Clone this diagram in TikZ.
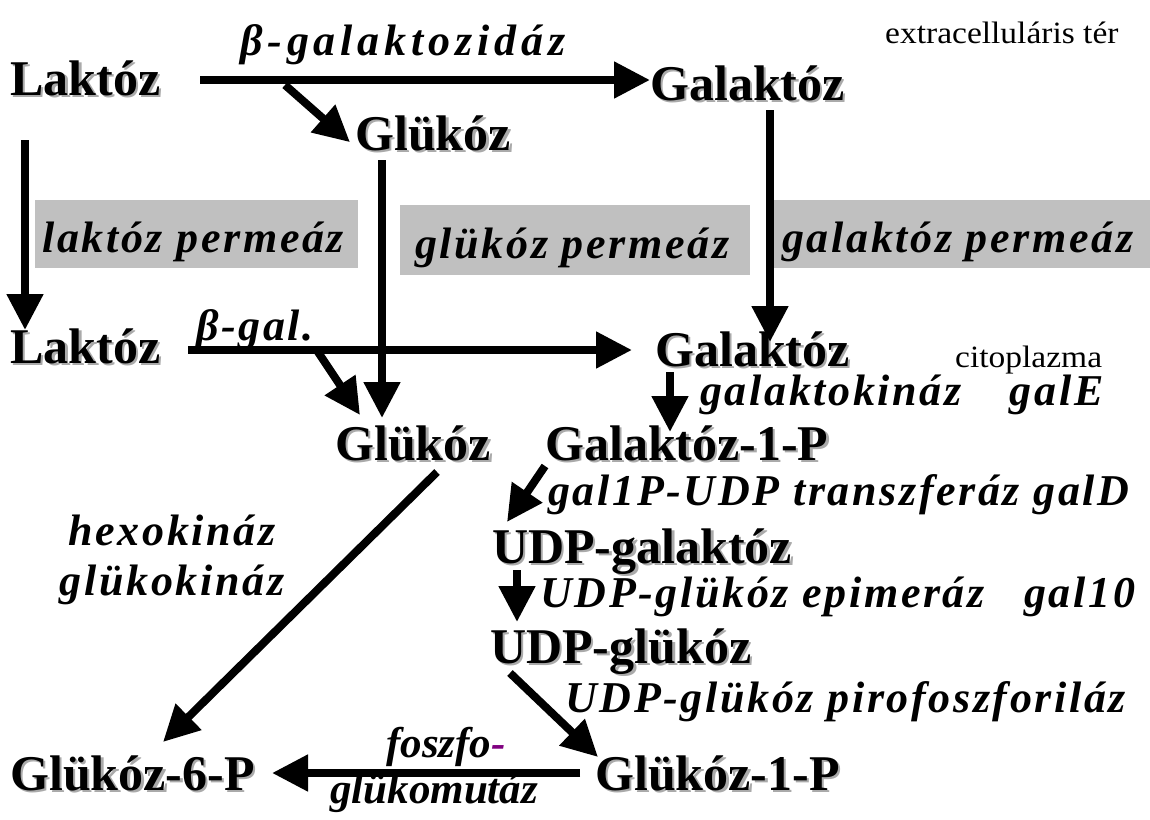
\documentclass[tikz,border=0pt]{standalone}
\usepackage{fontspec}
\setmainfont{Liberation Serif}
\newfontfamily\enzfont[LetterSpace=6]{Liberation Serif}
\newfontfamily\enzwidefont[LetterSpace=11]{Liberation Serif}
\newfontfamily\notefont[FakeStretch=1.08]{Liberation Serif}
\usetikzlibrary{arrows.meta}
\definecolor{boxgray}{RGB}{192,192,192}
\definecolor{shadowgray}{RGB}{170,170,170}
\definecolor{hyph}{RGB}{128,0,128}
% bold label with a soft grey drop shadow behind it
\newcommand\shadowed[1]{\rlap{\raisebox{-2.5pt}{\hspace*{2.5pt}\textcolor{shadowgray}{#1}}}#1}
\begin{document}
\begin{tikzpicture}[x=1pt,y=-1pt,
  mol/.style={font=\fontsize{50}{52}\selectfont\bfseries, inner sep=0pt, anchor=base west},
  enz/.style={font=\fontsize{44}{46}\enzfont\bfseries\itshape, inner sep=0pt, anchor=base west},
  enzwide/.style={enz, font=\fontsize{44}{46}\enzwidefont\bfseries\itshape},
  enzplain/.style={enz, font=\fontsize{43}{45}\selectfont\bfseries\itshape},
  note/.style={font=\fontsize{31}{33}\notefont, inner sep=0pt, anchor=base west},
  arr/.style={line width=8pt, -{Triangle[length=36pt,width=35pt]}},
  permbox/.style={fill=boxgray, draw=none, inner sep=0pt, anchor=north west}]
\fill[white] (0,0) rectangle (1150,819);
\useasboundingbox (0,0) rectangle (1150,819);

% membrane permease boxes
\node[permbox, minimum width=323pt, minimum height=68pt] (pb1) at (35,200) {};
\node[permbox, minimum width=350pt, minimum height=70pt] (pb2) at (400,205) {};
\node[permbox, minimum width=380pt, minimum height=68pt] (pb3) at (770,200) {};
\node[enz] (p1) at (42,252) {laktóz permeáz};
\node[enz] (p2) at (415,258) {glükóz permeáz};
\node[enz] (p3) at (782,252) {galaktóz permeáz};

% metabolites
\node[mol] (lak1) at (10,95) {\shadowed{Laktóz}};
\node[mol] (gal1) at (650,100) {\shadowed{Galaktóz}};
\node[mol] (glu1) at (355,150) {\shadowed{Glükóz}};
\node[mol] (lak2) at (10,363) {\shadowed{Laktóz}};
\node[mol] (gal2) at (655,366) {\shadowed{Galaktóz}};
\node[mol] (glu2) at (335,460) {\shadowed{Glükóz}};
\node[mol] (g1p) at (545,460) {\shadowed{Galaktóz-1-P}};
\node[mol] (udpgal) at (492,563) {\shadowed{UDP-galaktóz}};
\node[mol] (udpglu) at (490,663) {\shadowed{UDP-glükóz}};
\node[mol] (g6p) at (10,790) {\shadowed{Glükóz-6-P}};
\node[mol] (glu1p) at (595,790) {\shadowed{Glükóz-1-P}};

% compartments
\node[note] (ext) at (885,43) {extracelluláris tér};
\node[note] (cyt) at (955,367) {citoplazma};

% enzymes
\node[enzwide] (bgal) at (240,55) {β-galaktozidáz};
\node[enz] (bgal2) at (196,340) {β-gal.};
\node[enz] (gk) at (700,405) {galaktokináz\hspace*{1.1em}galE};
\node[enz] (gt) at (548,505) {gal1P-UDP transzferáz galD};
\node[enz] (ep) at (540,607) {UDP-glükóz epimeráz\hspace*{0.9em}gal10};
\node[enz] (pf) at (565,712) {UDP-glükóz pirofoszforiláz};
\node[enz, anchor=base] (hk) at (172,545) {hexokináz};
\node[enz, anchor=base] (glk) at (172,595) {glükokináz};
\node[enzplain] (pgm1) at (386,757) {foszfo\textcolor{hyph}{-}};
\node[enzplain] (pgm2) at (330,803) {glükomutáz};

% reaction arrows
\coordinate (a1) at (200,80);
\coordinate (a1b) at (285,85);
\coordinate (a6) at (188,350);
\coordinate (a6b) at (318,352);
\draw[arr] (a1) -- (gal1.west |- a1);
\draw[arr] (a1b) -- ([shift={(-5,8)}]glu1.west);
\draw[arr] (25,140) -- (25,330);
\draw[arr] (382,160) -- (382,418);
\draw[arr] (770,110) -- (770,342);
\draw[arr] (a6) -- (632,350);
\draw[arr] (a6b) -- (360,415);
\draw[arr] (670,372) -- (670,432);
\draw[arr] (545,466) -- (507,522);
\draw[arr] (517,570) -- (517,622);
\draw[arr] (510,673) -- (598,757);
\draw[arr] (580,773) -- (272,773);
\draw[arr] (437,472) -- (163,742);
\end{tikzpicture}
\end{document}
